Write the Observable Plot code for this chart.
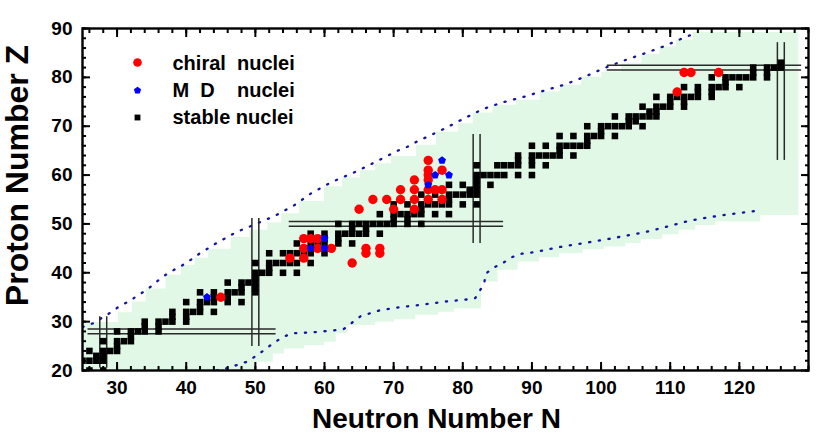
<!DOCTYPE html>
<html><head><meta charset="utf-8">
<script src="https://cdn.jsdelivr.net/npm/d3@7"></script>
<script src="https://cdn.jsdelivr.net/npm/@observablehq/plot@0.6"></script>
<style>
html,body{margin:0;padding:0;background:#fff;}
svg text{white-space:pre;}
</style></head><body><div id="chart"></div>
<script>
// ---- axes ----
const xDomain = [25, 130];
const yDomain = [20, 90];
const xTicks = [30, 40, 50, 60, 70, 80, 90, 100, 110, 120];
const yTicks = [20, 30, 40, 50, 60, 70, 80, 90];
const xMinor = d3.range(26, 131, 2);
const yMinor = d3.range(20, 91, 2);

// ---- stable nuclei (Z and its stable neutron numbers) ----
const stableZ = [20,22,23,24,25,26,27,28,29,30,31,32,33,34,35,36,37,38,39,40,41,42,44,45,46,47,48,49,50,51,52,53,54,55,56,57,58,59,60,62,63,64,65,66,67,68,69,70,71,72,73,74,75,76,77,78,79,80,81,82,83];
const stableN = [
 [26,28],[25,26,27,28],[27,28],[26,28,29,30],[30],[28,30,31,32],[32],[30,32,33,34,36],[34,36],[34,36,37,38,40],
 [38,40],[38,40,41,42,44],[42],[40,42,43,44,46,48],[44,46],[42,44,46,47,48,50],[48,50],[46,48,49,50],[50],[50,51,52,54,56],
 [52],[50,52,53,54,55,56,58],[52,54,55,56,57,58,60],[58],[56,58,59,60,62,64],[60,62],[58,60,62,63,64,65,66,68],[64,66],
 [62,64,65,66,67,68,69,70,72,74],[70,72],[68,70,71,72,73,74,76,78],[74],[70,72,74,75,76,77,78,80,82],[78],
 [74,76,78,79,80,81,82],[81,82],[78,80,82,84],[82],[82,83,84,85,86,88,90],[82,85,86,87,88,90,92],[88,90],
 [88,90,91,92,93,94,96],[94],[90,92,94,95,96,97,98],[98],[94,96,98,99,100,102],[100],[98,100,101,102,103,104,106],
 [104,105],[102,104,105,106,107,108],[107,108],[106,108,109,110,112],[110,112],[108,110,111,112,113,114,116],
 [114,116],[112,114,116,117,118,120],[118],[116,118,119,120,121,122,124],[122,124],[122,124,125,126],[126]
];

// ---- chiral nuclei ----
const chiralN = [45,55,57,57,57,58,59,59,61,64,65,66,66,67,68,68,69,70,71,71,73,73,73,73,75,75,75,75,75,75,76,77,77,77,111,112,113,117];
const chiralZ = [35,43,43,45,47,47,45,47,45,42,53,44,45,55,44,45,55,53,55,57,53,55,57,59,55,57,59,60,61,63,57,55,57,61,77,81,81,81];

// ---- MxD nuclei ----
const mdN = [43,58,60,60,75,76,77,78];
const mdZ = [35,45,45,47,58,60,63,60];

// ---- green region: upper edge (step starts) ----
const greenTopN = [25,30.2,32.2,34.2,37.1,39.3,41.3,43.2,46.5,49.2,51.8,53.8,56.4,60.0,62.6,65.2,67.4,69.7,73.3,76.2,79.4,81.5,84.4,87.8,91.2,94.1,97.2,100.1,103.0,105.9,108.5,110.9,113.3,128.6];
const greenTopZ = [29.8,31.8,34.0,36.7,39.5,41.5,43.0,44.8,47.2,48.7,50.2,52.1,54.6,57.6,59.4,60.9,62.3,63.8,66.1,68.8,70.5,72.7,74.3,75.3,77.0,78.4,80.0,81.1,82.8,84.7,86.2,87.6,89.2,89.2];
// ---- green region: lower edge (step starts) ----
const greenLowN = [49.9,52.6,54.2,57.1,60.0,61.7,63.4,67.4,70.1,73.2,76.5,78.8,82.7,85.1,88.0,91.1,94.0,97.4,100.5,103.6,105.8,108.9,111.3,113.7,116.6,123.1,130];
const greenLowZ = [21.7,23.4,24.4,25.1,25.8,27.5,29.2,29.9,30.4,31.3,31.9,32.6,38.1,40.5,42.2,43.1,43.9,44.7,45.3,46.0,46.8,47.8,48.7,49.7,50.4,51.7,51.7];

// ---- dotted limit lines ----
const upLineN = [25.0,26.6,29.1,30.4,31.8,33.0,34.3,35.5,36.7,38.1,39.4,40.7,41.9,44.4,47.2,50.1,52.9,55.6,58.1,60.8,62.2,63.6,65.0,66.4,67.8,69.2,70.6,72.0,73.3,74.8,77.5,80.2,82.9,85.8,88.8,91.8,94.7,97.6,100.3,103.2,106.1,109.0,111.8,113.2];
const upLineZ = [28.9,29.7,31.9,33.2,34.2,35.4,36.5,37.9,39.3,40.5,41.5,42.7,43.9,46.1,48.3,50.0,51.7,53.8,56.3,58.4,59.3,60.1,61.0,62.0,63.0,64.0,65.0,65.8,66.8,67.8,69.6,71.6,73.5,74.9,76.0,77.3,78.5,80.1,81.8,83.4,84.8,86.3,88.0,88.8];
const lowLineN = [44.4,46.0,47.5,48.8,50.0,51.3,52.5,53.8,55.2,58.2,61.3,62.8,65.2,68.2,71.2,74.3,77.4,80.4,81.8,83.1,83.3,84.4,85.8,87.1,88.5,90.2,91.7,94.5,97.6,100.6,103.7,106.6,109.7,112.6,115.7,118.7,121.6,123.3];
const lowLineZ = [20.0,20.5,21.2,21.8,22.9,24.2,25.5,26.7,27.6,27.8,28.2,28.5,31.1,32.4,33.0,33.5,34.1,34.5,34.8,37.8,39.8,41.0,42.0,43.2,43.9,44.2,44.6,45.4,46.1,46.8,47.6,48.4,49.5,50.6,51.4,52.0,52.5,52.9];

// ---- magic-number double lines ----
const magicHZ = [28, 50, 82];
const magicHN1 = [25.8, 54.9, 100.9];
const magicHN2 = [53.0, 85.9, 129.0];
const magicVN = [28, 50, 82, 126];
const magicVZ1 = [20.5, 24.9, 46.0, 63.0];
const magicVZ2 = [31.0, 51.1, 68.3, 87.1];

// ---- legend ----
const legendLabels = ["chiral  nuclei", "M  D    nuclei", "stable nuclei"];

// ---- build tables ----
const stable = stableZ.flatMap((z, i) => stableN[i].map(n => ({N: n, Z: z})));
const chiral = chiralN.map((n, i) => ({N: n, Z: chiralZ[i]}));
const md = mdN.map((n, i) => ({N: n, Z: mdZ[i]}));
const greenTop = greenTopN.map((n, i) => ({N: n, Z: greenTopZ[i]}));
const greenLow = greenLowN.map((n, i) => ({N: n, Z: greenLowZ[i]}));
const upLine = upLineN.map((n, i) => ({N: n, Z: upLineZ[i]}));
const lowLine = lowLineN.map((n, i) => ({N: n, Z: lowLineZ[i]}));
const magicH = magicHZ.map((z, i) => ({Z: z, N1: magicHN1[i], N2: magicHN2[i]}));
const magicV = magicVN.map((n, i) => ({N: n, Z1: magicVZ1[i], Z2: magicVZ2[i]}));

const pentagon = {
  draw(ctx, size) {
    const R = Math.sqrt(size / 2.3776);
    for (let k = 0; k < 5; k++) {
      const a = -Math.PI / 2 + k * 2 * Math.PI / 5;
      const px = R * Math.cos(a), py = R * Math.sin(a);
      if (k) ctx.lineTo(px, py); else ctx.moveTo(px, py);
    }
    ctx.closePath();
  }
};

const green = "#e1f8e6";
const dotBlue = "#1414a0";
const magicCol = "#2a2a2a";
const bottomZ = () => yDomain[0];
const legendText = (label, dy) => Plot.text([label], {text: d => d, frameAnchor: "top-left", dx: 90, dy, textAnchor: "start", lineAnchor: "middle", fontSize: 20, fontWeight: "bold"});

const chart = Plot.plot({
  width: 817, height: 436,
  marginLeft: 82, marginRight: 9, marginTop: 28, marginBottom: 66,
  x: {domain: xDomain},
  y: {domain: yDomain},
  style: {fontFamily: "'Liberation Sans', Arial, sans-serif", fontWeight: "bold", background: "white", color: "black"},
  marks: [
    Plot.areaY(greenTop, {x: "N", y1: bottomZ, y2: "Z", curve: "step-after", fill: green, clip: true}),
    Plot.areaY(greenLow, {x: "N", y1: bottomZ, y2: "Z", curve: "step-after", fill: "white", clip: true}),
    Plot.line(upLine, {x: "N", y: "Z", stroke: dotBlue, strokeWidth: 2.3, strokeDasharray: "1.2,8.6", strokeLinecap: "round", clip: true}),
    Plot.line(lowLine, {x: "N", y: "Z", stroke: dotBlue, strokeWidth: 2.3, strokeDasharray: "1.2,8.6", strokeLinecap: "round", clip: true}),
    Plot.ruleY(magicH, {y: d => d.Z - 0.5, x1: "N1", x2: "N2", stroke: magicCol, strokeWidth: 1.5, clip: true}),
    Plot.ruleY(magicH, {y: d => d.Z + 0.5, x1: "N1", x2: "N2", stroke: magicCol, strokeWidth: 1.5, clip: true}),
    Plot.ruleX(magicV, {x: d => d.N - 0.5, y1: "Z1", y2: "Z2", stroke: magicCol, strokeWidth: 1.5, clip: true}),
    Plot.ruleX(magicV, {x: d => d.N + 0.5, y1: "Z1", y2: "Z2", stroke: magicCol, strokeWidth: 1.5, clip: true}),
    Plot.dot(stable, {x: "N", y: "Z", symbol: "square", r: 3.7, fill: "black", stroke: "none", clip: true}),
    Plot.dot(chiral, {x: "N", y: "Z", r: 4.7, fill: "#ff0000", stroke: "none", clip: true}),
    Plot.dot(md, {x: "N", y: "Z", symbol: pentagon, r: 3.6, fill: "#0000ff", stroke: "none", clip: true}),
    // legend
    Plot.dot([0], {frameAnchor: "top-left", dx: 55, dy: 34, r: 4.3, fill: "#ff0000", stroke: "none"}),
    Plot.dot([0], {frameAnchor: "top-left", dx: 55, dy: 62, symbol: pentagon, r: 3.3, fill: "#0000ff", stroke: "none"}),
    Plot.dot([0], {frameAnchor: "top-left", dx: 55, dy: 89, symbol: "square", r: 3.3, fill: "black", stroke: "none"}),
    legendText(legendLabels[0], 35),
    legendText(legendLabels[1], 62),
    legendText(legendLabels[2], 89),
    // axes: labels
    Plot.axisX({ticks: xTicks, anchor: "bottom", tickSize: 0, tickPadding: 10, fontSize: 19, fontWeight: "bold", label: null}),
    Plot.axisY({ticks: yTicks, anchor: "left", tickSize: 0, tickPadding: 10, fontSize: 19, fontWeight: "bold", label: null}),
    // inward ticks on all sides
    Plot.axisX({ticks: xTicks, anchor: "bottom", tickSize: -8, strokeWidth: 2, tickFormat: () => "", label: null}),
    Plot.axisX({ticks: xMinor, anchor: "bottom", tickSize: -4, strokeWidth: 2, tickFormat: () => "", label: null}),
    Plot.axisX({ticks: xTicks, anchor: "top", tickSize: -8, strokeWidth: 2, tickFormat: () => "", label: null}),
    Plot.axisX({ticks: xMinor, anchor: "top", tickSize: -4, strokeWidth: 2, tickFormat: () => "", label: null}),
    Plot.axisY({ticks: yTicks, anchor: "left", tickSize: -8, strokeWidth: 2, tickFormat: () => "", label: null}),
    Plot.axisY({ticks: yMinor, anchor: "left", tickSize: -4, strokeWidth: 2, tickFormat: () => "", label: null}),
    Plot.axisY({ticks: yTicks, anchor: "right", tickSize: -8, strokeWidth: 2, tickFormat: () => "", label: null}),
    Plot.axisY({ticks: yMinor, anchor: "right", tickSize: -4, strokeWidth: 2, tickFormat: () => "", label: null}),
    Plot.frame({stroke: "black", strokeWidth: 2.4}),
    // axis titles
    Plot.text(["Neutron Number N"], {text: d => d, frameAnchor: "bottom", dx: -9, dy: 49, textAnchor: "middle", lineAnchor: "middle", fontSize: 28, fontWeight: "bold"}),
    Plot.text(["Proton Number Z"], {text: d => d, frameAnchor: "left", dx: -65, dy: -24, rotate: -90, textAnchor: "middle", lineAnchor: "middle", fontSize: 32, fontWeight: "bold"})
  ]
});
document.getElementById("chart").appendChild(chart);
</script>
</body></html>
